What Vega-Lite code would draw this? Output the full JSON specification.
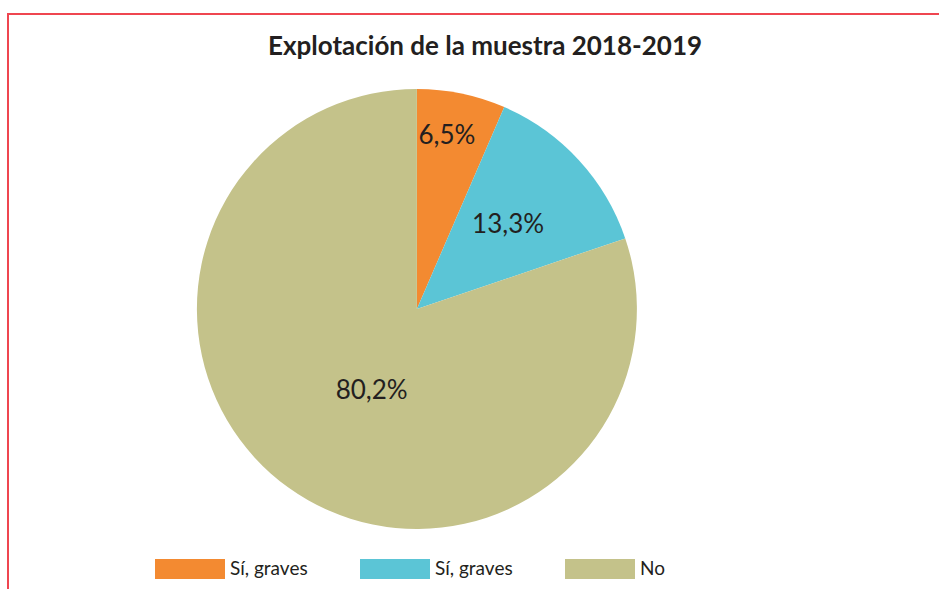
{
  "$schema": "https://vega.github.io/schema/vega-lite/v6.json",
  "autosize": "none",
  "padding": {"left": 8, "top": 14, "right": 0, "bottom": 0},
  "width": 940,
  "height": 590,
  "background": "white",
  "title": {
    "text": "Explotación de la muestra 2018-2019",
    "font": "Lato",
    "fontWeight": "bold",
    "fontSize": 26,
    "color": "#231F20",
    "anchor": "middle",
    "frame": "group",
    "orient": "top",
    "offset": -46,
    "dx": 7
  },
  "data": {
    "values": [
      {"categoria": "Sí, graves (1)", "porcentaje": 6.5, "etiqueta": "6,5%", "orden": 1},
      {"categoria": "Sí, graves (2)", "porcentaje": 13.3, "etiqueta": "13,3%", "orden": 2},
      {"categoria": "No", "porcentaje": 80.2, "etiqueta": "80,2%", "orden": 3}
    ]
  },
  "encoding": {
    "theta": {"field": "porcentaje", "type": "quantitative", "stack": true},
    "order": {"field": "orden", "type": "quantitative"},
    "x": {"datum": 0.435, "type": "quantitative", "scale": {"domain": [0, 1], "nice": false, "zero": false}, "axis": null},
    "color": {
      "field": "categoria",
      "type": "nominal",
      "scale": {
        "domain": ["Sí, graves (1)", "Sí, graves (2)", "No"],
        "range": ["#F38A31", "#5BC5D6", "#C4C28A"]
      },
      "legend": {
        "orient": "none",
        "direction": "horizontal",
        "legendX": 147,
        "legendY": 520,
        "title": null,
        "padding": 0,
        "symbolType": "M-1,-0.2857H1V0.2857H-1Z",
        "symbolSize": 4900,
        "symbolStrokeWidth": 0,
        "symbolOpacity": 1,
        "labelFont": "Lato",
        "labelFontSize": 19,
        "labelColor": "#231F20",
        "labelOffset": 5,
        "columnPadding": 52,
        "labelExpr": "slice(datum.label, 0, 10)"
      }
    }
  },
  "layer": [
    {
      "mark": {"type": "arc", "outerRadius": 220, "stroke": null}
    },
    {
      "mark": {
        "type": "text",
        "font": "Lato",
        "fontSize": 26,
        "color": "#231F20",
        "radius": {"expr": "datum.orden == 1 ? 176 : datum.orden == 2 ? 124 : 94"},
        "thetaOffset": {"expr": "datum.orden == 1 ? -0.033 : datum.orden == 3 ? -0.12 : 0"}
      },
      "encoding": {
        "text": {"field": "etiqueta"},
        "color": {"value": "#231F20"}
      }
    }
  ],
  "config": {
    "view": {"stroke": "#EF4650", "strokeWidth": 2}
  }
}
